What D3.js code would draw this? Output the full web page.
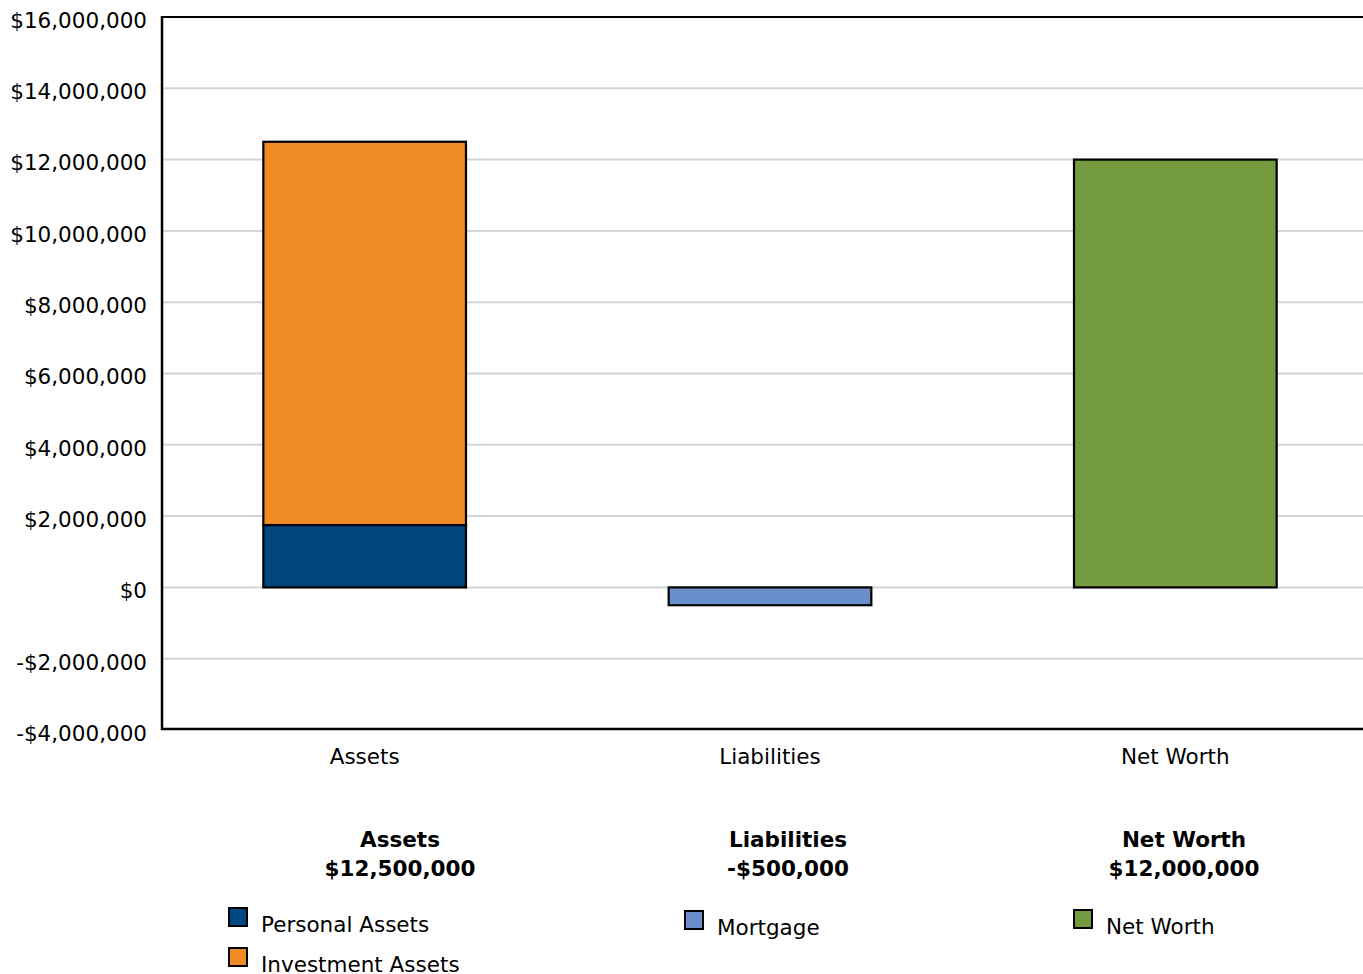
<!DOCTYPE html>
<html><head><meta charset="utf-8">
<script src="https://cdn.jsdelivr.net/npm/d3@7"></script>
<style>
body{margin:0;background:#fff;}
svg{display:block;font-family:Verdana,"DejaVu Sans",sans-serif;}
</style></head>
<body><svg id="chart" width="1363" height="974"></svg>
<script>
const categories = ["Assets", "Liabilities", "Net Worth"];
const seriesNames = ["Personal Assets", "Investment Assets", "Mortgage", "Net Worth"];
const seriesCategory = ["Assets", "Assets", "Liabilities", "Net Worth"];
const seriesValues = [1750000, 10750000, -500000, 12000000];
const seriesColors = ["#00467f", "#f08b23", "#6a8fcb", "#739a3e"];
const totals = [12500000, -500000, 12000000];
const yTicks = [-4000000, -2000000, 0, 2000000, 4000000, 6000000, 8000000, 10000000, 12000000, 14000000, 16000000];

const svg = d3.select("#chart");
const L = 162, T = 17, B = 730, R = 1378;
const FS = 21.5;
const x = d3.scaleBand().domain(categories).range([L, R]).paddingInner(0.5).paddingOuter(0.25);
const y = d3.scaleLinear().domain([-4000000, 16000000]).range([B, T]);
const fmt = v => (v < 0 ? "-$" : "$") + d3.format(",")(Math.abs(v));

// gridlines
svg.append("g").selectAll("line").data(yTicks.filter(t => t > -4000000 && t < 16000000)).join("line")
  .attr("x1", L).attr("x2", 1363).attr("y1", d => y(d)).attr("y2", d => y(d))
  .attr("stroke", "#d4d4d4").attr("stroke-width", 2);

// y axis labels
const yAxis = d3.axisLeft(y).tickValues(yTicks).tickFormat(fmt).tickSize(0).tickPadding(15);
const ga = svg.append("g").attr("transform", `translate(${L},0)`).call(yAxis);
ga.select(".domain").remove();
ga.selectAll("text").attr("font-size", FS).attr("fill", "#000").attr("dy", "0.48em")
  .attr("font-family", "Verdana, 'DejaVu Sans', sans-serif");

// bars (stacked per category)
const stackPos = {}, stackNeg = {};
const bars = seriesValues.map((v, i) => {
  const c = seriesCategory[i];
  let y0, y1;
  if (v >= 0) { y0 = stackPos[c] || 0; y1 = y0 + v; stackPos[c] = y1; }
  else { y0 = stackNeg[c] || 0; y1 = y0 + v; stackNeg[c] = y1; }
  return {c, y0, y1, color: seriesColors[i]};
});
svg.append("g").selectAll("rect").data(bars).join("rect")
  .attr("x", d => x(d.c)).attr("width", x.bandwidth())
  .attr("y", d => y(Math.max(d.y0, d.y1))).attr("height", d => Math.abs(y(d.y0) - y(d.y1)))
  .attr("fill", d => d.color).attr("stroke", "#000").attr("stroke-width", 2.2);

// frame
svg.append("line").attr("x1", L).attr("x2", 1363).attr("y1", T).attr("y2", T).attr("stroke", "#000").attr("stroke-width", 2);
svg.append("line").attr("x1", L).attr("x2", L).attr("y1", T - 1).attr("y2", B).attr("stroke", "#000").attr("stroke-width", 2.5);
svg.append("line").attr("x1", L - 1).attr("x2", 1363).attr("y1", B - 1).attr("y2", B - 1).attr("stroke", "#000").attr("stroke-width", 2.5);

// category labels
const xAxis = d3.axisBottom(x).tickSize(0).tickPadding(0);
const gx = svg.append("g").attr("transform", `translate(0,${B})`).call(xAxis);
gx.select(".domain").remove();
gx.selectAll("text").attr("font-size", FS).attr("fill", "#000").attr("dy", null).attr("y", 34)
  .attr("font-family", "Verdana, 'DejaVu Sans', sans-serif");

// summary
const sumX = [400, 788, 1184];
const sg = svg.append("g").attr("font-weight", "bold").attr("font-size", FS).attr("text-anchor", "middle");
categories.forEach((c, i) => {
  sg.append("text").attr("x", sumX[i]).attr("y", 847).text(c);
  sg.append("text").attr("x", sumX[i]).attr("y", 876).text(fmt(totals[i]));
});

// legend
const legPos = [[229, 908], [229, 948], [685, 911], [1074, 910]];
const lg = svg.append("g");
seriesNames.forEach((n, i) => {
  const [lx, ly] = legPos[i];
  lg.append("rect").attr("x", lx).attr("y", ly).attr("width", 18).attr("height", 18)
    .attr("fill", seriesColors[i]).attr("stroke", "#000").attr("stroke-width", 2);
  lg.append("text").attr("x", lx + 32).attr("y", ly + 24).attr("font-size", FS).text(n);
});
</script></body></html>
